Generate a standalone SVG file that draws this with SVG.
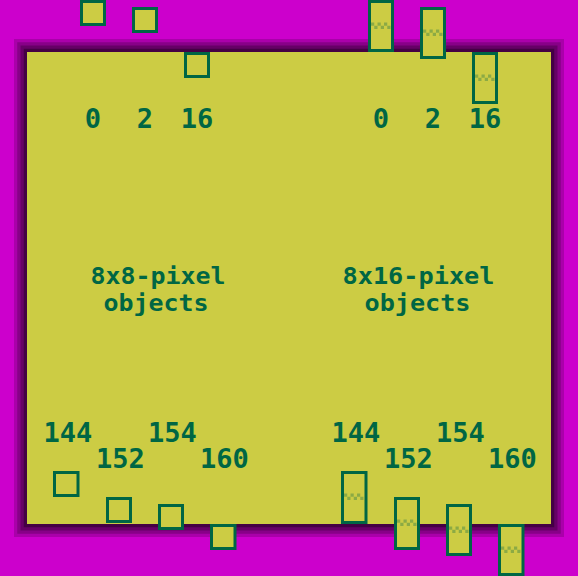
<svg xmlns="http://www.w3.org/2000/svg" xmlns:xlink="http://www.w3.org/1999/xlink" width="578" height="576" viewBox="0 0 578 576">
  <style>
    .obj { fill: #CCCC44; stroke: #006644; stroke-width: 3; }
    .lbl { font-family: "DejaVu Sans Mono", "Liberation Mono", monospace; font-weight: bold; font-size: 27px; fill: #006644; text-anchor: middle; }
    .title { font-family: "DejaVu Sans Mono", "Liberation Mono", monospace; font-weight: bold; font-size: 23px; fill: #006644; text-anchor: middle; }
    .cell { fill: #8CAA44; }
  </style>
  <defs>
    <g id="wave">
      <rect class="cell" x="0" y="0" width="3.25" height="3.25"/>
      <rect class="cell" x="6.5" y="0" width="3.25" height="3.25"/>
      <rect class="cell" x="13" y="0" width="3.25" height="3.25"/>
      <rect class="cell" x="3.25" y="3.25" width="3.25" height="3.25"/>
      <rect class="cell" x="9.75" y="3.25" width="3.25" height="3.25"/>
      <rect class="cell" x="16.25" y="3.25" width="3.25" height="3.25"/>
    </g>
  </defs>

  <!-- background -->
  <rect x="0" y="0" width="578" height="576" fill="#CC00CC"/>
  <!-- screen shadow bands -->
  <g id="screen">
    <rect x="14" y="39" width="550" height="498" fill="#AA00AA"/>
    <rect x="17.25" y="42.25" width="543.5" height="491.5" fill="#880088"/>
    <rect x="20.5" y="45.5" width="537" height="485" fill="#660066"/>
    <rect x="23.75" y="48.75" width="530.5" height="478.5" fill="#440044"/>
    <rect x="27" y="52" width="524" height="472" fill="#CCCC44"/>
  </g>

  <g id="connectors"/>

  <!-- labels -->
  <g id="labels">
    <text class="lbl" x="93" y="128">0</text>
    <text class="lbl" x="145" y="128">2</text>
    <text class="lbl" x="197" y="128">16</text>
    <text class="lbl" x="381" y="128">0</text>
    <text class="lbl" x="433" y="128">2</text>
    <text class="lbl" x="485" y="128">16</text>

    <text class="lbl" x="68" y="442">144</text>
    <text class="lbl" x="172.5" y="442">154</text>
    <text class="lbl" x="120.5" y="468">152</text>
    <text class="lbl" x="224.5" y="468">160</text>
    <text class="lbl" x="356" y="442">144</text>
    <text class="lbl" x="460.5" y="442">154</text>
    <text class="lbl" x="408.5" y="468">152</text>
    <text class="lbl" x="512.5" y="468">160</text>

    <text class="title" x="158" y="284" textLength="135" lengthAdjust="spacingAndGlyphs">8x8-pixel</text>
    <text class="title" x="156" y="311" textLength="105" lengthAdjust="spacingAndGlyphs">objects</text>
    <text class="title" x="418.5" y="284" textLength="152" lengthAdjust="spacingAndGlyphs">8x16-pixel</text>
    <text class="title" x="417.5" y="311" textLength="106" lengthAdjust="spacingAndGlyphs">objects</text>
  </g>

  <!-- 8x8 objects, top -->
  <g id="obj8-y0"><rect class="obj" x="81.5" y="1.5" width="23" height="23"/></g>
  <g id="obj8-y2"><rect class="obj" x="133.5" y="8.5" width="23" height="23"/></g>
  <g id="obj8-y16"><rect class="obj" x="185.5" y="53.5" width="23" height="23"/></g>

  <!-- 8x16 objects, top -->
  <g id="obj16-y0"><rect class="obj" x="369.5" y="1.5" width="23" height="49"/><use xlink:href="#wave" x="371" y="22.5"/></g>
  <g id="obj16-y2"><rect class="obj" x="421.5" y="8.5" width="23" height="49"/><use xlink:href="#wave" x="423" y="29.5"/></g>
  <g id="obj16-y16"><rect class="obj" x="473.5" y="53.5" width="23" height="49"/><use xlink:href="#wave" x="475" y="74.5"/></g>

  <!-- 8x8 objects, bottom -->
  <g id="obj8-y144"><rect class="obj" x="54.5" y="472.5" width="23.5" height="23"/></g>
  <g id="obj8-y152"><rect class="obj" x="107.5" y="498.5" width="23" height="23"/></g>
  <g id="obj8-y154"><rect class="obj" x="159.5" y="505.5" width="23" height="23"/></g>
  <g id="obj8-y160"><rect class="obj" x="211.5" y="525.5" width="23.5" height="23"/></g>

  <!-- 8x16 objects, bottom -->
  <g id="obj16-y144"><rect class="obj" x="342.5" y="472.5" width="23.5" height="50"/><use xlink:href="#wave" x="344" y="493.5"/></g>
  <g id="obj16-y152"><rect class="obj" x="395.5" y="498.5" width="23" height="50"/><use xlink:href="#wave" x="397" y="519.5"/></g>
  <g id="obj16-y154"><rect class="obj" x="447.5" y="505.5" width="23" height="49"/><use xlink:href="#wave" x="449" y="526.5"/></g>
  <g id="obj16-y160"><rect class="obj" x="499.5" y="525.5" width="23.5" height="49"/><use xlink:href="#wave" x="501" y="546.5"/></g>
</svg>
